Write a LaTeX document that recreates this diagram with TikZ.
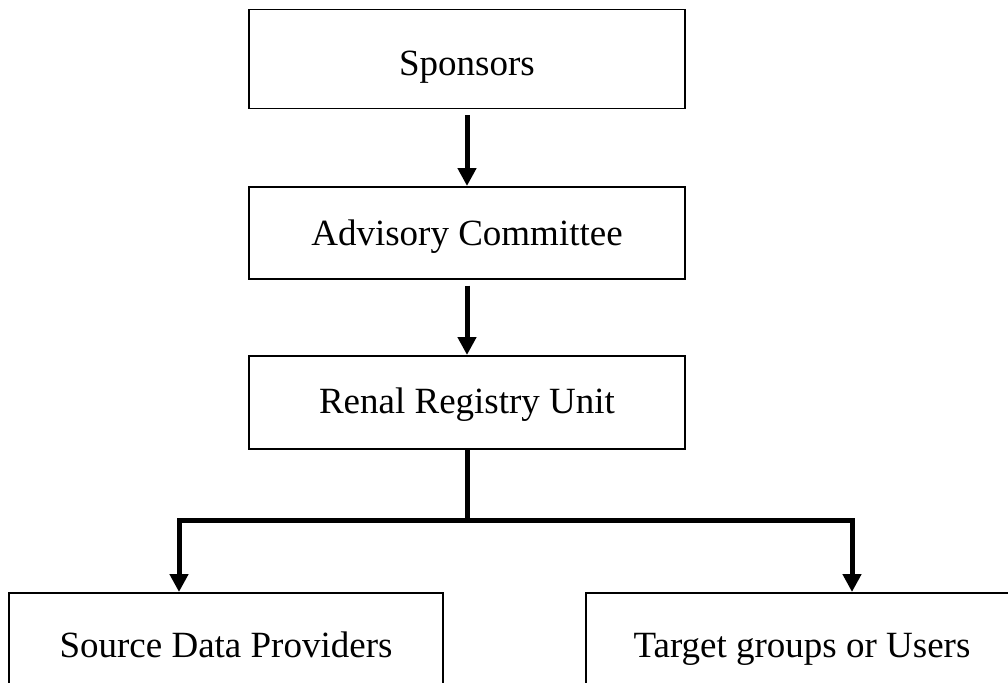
\documentclass[tikz,border=0pt]{standalone}
\usepackage{fontspec}
\setmainfont{Liberation Serif}
\usetikzlibrary{arrows.meta}

\tikzset{
  unitbox/.style={draw,line width=1.5pt,anchor=north,minimum width=436pt,inner xsep=0pt,inner ysep=0pt,
    text height=59pt,text depth=33pt,font=\fontsize{37}{44}\selectfont},
  flow/.style={line width=5pt,-{Triangle[length=18pt,width=18pt]}},
  trunk/.style={line width=5pt}
}

\begin{document}
\begin{tikzpicture}[x=1pt,y=-1pt]
  \useasboundingbox (0,0) rectangle (1008,682);
  \clip (0,0) rectangle (1008,682);
  % the chain of units
  \node[unitbox,text height=66pt] (sponsors) at (467,9) {Sponsors};
  \node[unitbox] (advisory) at (467,186) {Advisory Committee};
  \node[unitbox,text height=58pt,text depth=35pt] (renal) at (467,355) {Renal Registry Unit};
  \node[unitbox,minimum width=434pt,text height=65pt] (source) at (226,592) {Source Data Providers};
  \node[unitbox,minimum width=432pt,text height=65pt] (target) at (802,592) {Target groups or Users};
  % branching point
  \coordinate (split) at (467,520);
  \coordinate (lcorner) at (179,520);
  \coordinate (rcorner) at (852,520);
  \draw[flow] ([yshift=-6pt]sponsors.south) -- (advisory.north);
  \draw[flow] ([yshift=-6pt]advisory.south) -- (renal.north);
  \draw[trunk] (renal.south) -- (split);
  \draw[flow] (split) -- (lcorner) -- (lcorner |- source.north);
  \draw[flow] (split) -- (rcorner) -- (rcorner |- target.north);
\end{tikzpicture}
\end{document}
